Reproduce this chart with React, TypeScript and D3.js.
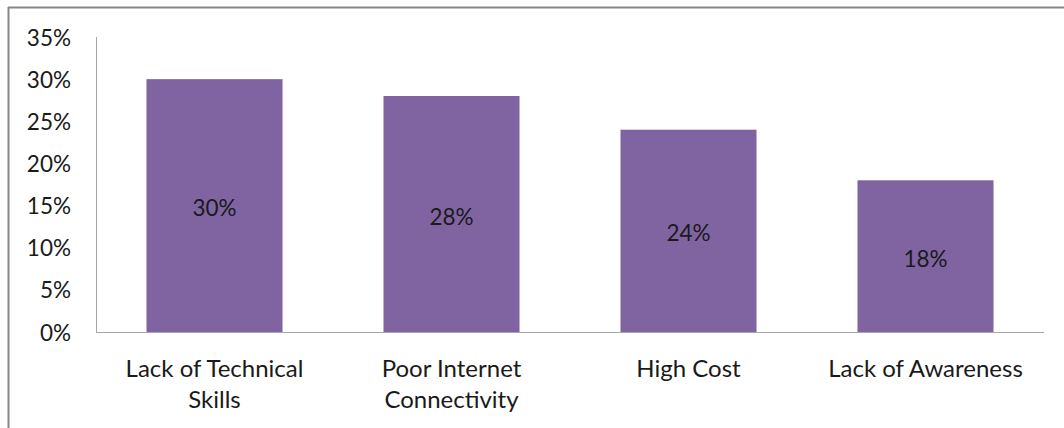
import React from "react";
import * as d3 from "d3";

const categories: string[][] = [
  ["Lack of Technical", "Skills"],
  ["Poor Internet", "Connectivity"],
  ["High Cost"],
  ["Lack of Awareness"],
];
const values: number[] = [0.3, 0.28, 0.24, 0.18];
const yTicks: number[] = [0, 0.05, 0.1, 0.15, 0.2, 0.25, 0.3, 0.35];

const W = 1064;
const H = 428;
const FONT = "Lato, 'Open Sans', sans-serif";

export default function App() {
  const x = d3
    .scaleBand<number>()
    .domain(values.map((_, i) => i))
    .range([96, 1044])
    .paddingInner(0.426)
    .paddingOuter(0.213);
  const y = d3.scaleLinear().domain([0, 0.35]).range([332, 37]);
  const fmt = d3.format(".0%");

  return (
    <svg
      width={W}
      height={H}
      style={{ position: "absolute", left: 0, top: 0, background: "#fff" }}
      fontFamily={FONT}
    >
      <rect x={0} y={0} width={W} height={H} fill="#fff" />
      {/* outer frame */}
      <line x1={8} y1={7.5} x2={W} y2={7.5} stroke="#878787" strokeWidth={2} />
      <line x1={8.5} y1={7} x2={8.5} y2={H} stroke="#878787" strokeWidth={2} />

      {/* bars */}
      {values.map((v, i) => (
        <rect
          key={i}
          x={x(i)!}
          y={y(v)}
          width={x.bandwidth()}
          height={y(0) - y(v)}
          fill="#8064A2"
        />
      ))}

      {/* axes */}
      <line x1={96.5} y1={37} x2={96.5} y2={332} stroke="#A6A6A6" strokeWidth={1} />
      <line x1={96} y1={332.5} x2={1044} y2={332.5} stroke="#A6A6A6" strokeWidth={1} />

      {/* y tick labels */}
      {yTicks.map((t) => (
        <text
          key={t}
          x={71}
          y={y(t)}
          textAnchor="end"
          dominantBaseline="central"
          fontSize={22.5}
          fill="#1a1a1a"
        >
          {fmt(t)}
        </text>
      ))}

      {/* value labels */}
      {values.map((v, i) => (
        <text
          key={i}
          x={x(i)! + x.bandwidth() / 2}
          y={(y(v) + y(0)) / 2 + 2}
          textAnchor="middle"
          dominantBaseline="central"
          fontSize={22.5}
          fill="#1a1a1a"
        >
          {fmt(v)}
        </text>
      ))}

      {/* category labels */}
      {categories.map((lines, i) =>
        lines.map((ln, j) => (
          <text
            key={i + "-" + j}
            x={x(i)! + x.bandwidth() / 2}
            y={367 + j * 31.5}
            textAnchor="middle"
            dominantBaseline="central"
            fontSize={24}
            fill="#1a1a1a"
          >
            {ln}
          </text>
        ))
      )}
    </svg>
  );
}
